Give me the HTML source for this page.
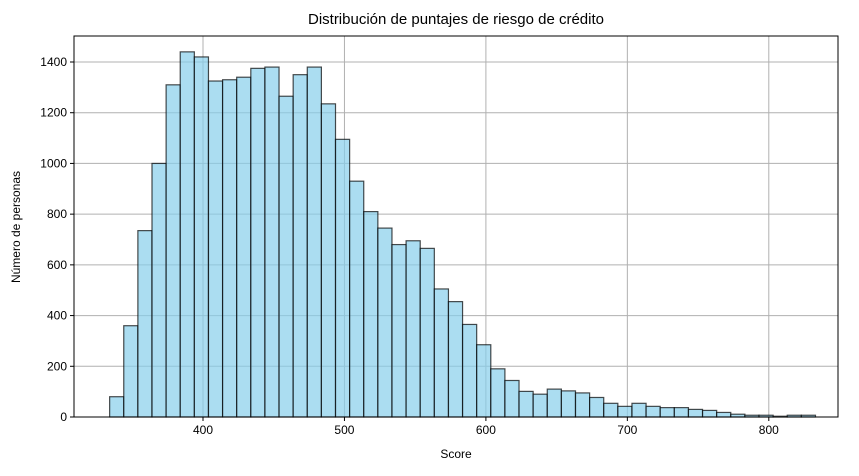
<!DOCTYPE html>
<html><head><meta charset="utf-8"><style>
body{margin:0;background:#fff;}
svg{font-family:"Liberation Sans","DejaVu Sans",sans-serif;}
</style></head><body>
<svg id="chart" width="859" height="471">
<text x="456" y="24" text-anchor="middle" font-size="15" fill="#000">Distribución de puntajes de riesgo de crédito</text>
<g id="grid"></g><g id="bars"></g><g id="axes"></g>
<text x="456" y="458" text-anchor="middle" font-size="12">Score</text>
<text transform="translate(20,227) rotate(-90)" text-anchor="middle" font-size="12">Número de personas</text>
</svg>
<script>
const binStart = 334;
const binWidth = 9.98;
const counts = [80,360,735,1000,1310,1440,1420,1325,1330,1340,1375,1380,1265,1350,1380,1235,1095,930,810,745,680,695,665,505,455,365,285,190,144,101,90,110,103,95,77,54,42,54,42,37,37,30,26,18,11,7,7,3,7,7];
const xTicks = [400,500,600,700,800];
const yTicks = [0,200,400,600,800,1000,1200,1400];
const L=74,R=838,T=36,B=417;
const sx=v=>203+(v-400)*1.4145;
const sy=v=>417-v*(355/1400);
const NS="http://www.w3.org/2000/svg";
function mk(tag,attrs,parent){const e=document.createElementNS(NS,tag);for(const k in attrs)e.setAttribute(k,attrs[k]);parent.appendChild(e);return e;}
const grid=document.getElementById('grid'),bars=document.getElementById('bars'),axes=document.getElementById('axes');
xTicks.forEach(t=>{const x=sx(t);
const g=mk('line',{x1:x,x2:x,y1:T,y2:B,stroke:'#b0b0b0','stroke-width':1},grid);


mk('line',{x1:x,x2:x,y1:B,y2:B+4,stroke:'#000'},axes);
const tx=mk('text',{x:x,y:B+17,'text-anchor':'middle','font-size':12},axes);tx.textContent=t;


});
yTicks.forEach(t=>{const y=sy(t);
const g=mk('line',{x1:L,x2:R,y1:y,y2:y,stroke:'#b0b0b0','stroke-width':1},grid);


mk('line',{x1:L-4,x2:L,y1:y,y2:y,stroke:'#000'},axes);
const tx=mk('text',{x:L-7,y:y+4,'text-anchor':'end','font-size':12},axes);tx.textContent=t;


});
counts.forEach((c,i)=>{const x0=sx(binStart+i*binWidth),x1=sx(binStart+(i+1)*binWidth);
const r=mk('rect',{x:x0,y:sy(c),width:x1-x0,height:B-sy(c),fill:'rgba(135,206,235,0.7)',stroke:'rgba(0,0,0,0.7)','stroke-width':1.2},bars);


});
const f=mk('rect',{x:L,y:T,width:R-L,height:B-T,fill:'none',stroke:'#000','stroke-width':1},axes);


</script>
</body></html>
